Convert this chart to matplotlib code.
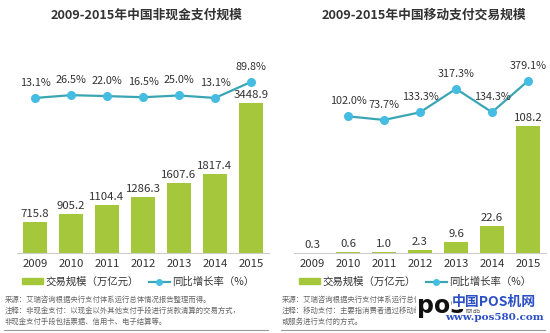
import numpy as np
import matplotlib.pyplot as plt
from matplotlib.patches import Patch
from matplotlib.lines import Line2D

plt.rcParams['font.family'] = ['Noto Sans CJK SC', 'DejaVu Sans']

# %% data
years = ['2009', '2010', '2011', '2012', '2013', '2014', '2015']
cash_scale = [715.8, 905.2, 1104.4, 1286.3, 1607.6, 1817.4, 3448.9]
cash_growth = [13.1, 26.5, 22.0, 16.5, 25.0, 13.1, 89.8]
mobile_scale = [0.3, 0.6, 1.0, 2.3, 9.6, 22.6, 108.2]
mobile_growth = [102.0, 73.7, 133.3, 317.3, 134.3, 379.1]  # 2010-2015

titles = ['2009-2015年中国非现金支付规模', '2009-2015年中国移动支付交易规模']
notes_left = ['来源：艾瑞咨询根据央行支付体系运行总体情况报告整理而得。',
              '注释：非现金支付：以现金以外其他支付手段进行货款清算的交易方式，',
              '非现金支付手段包括票据、信用卡、电子结算等。']
notes_right = ['来源：艾瑞咨询根据央行支付体系运行总体情况报告整理而得。',
               '注释：移动支付：主要指消费者通过移动终端对所消费的商品',
               '或服务进行支付的方式。']

bar_c = '#a5c73b'
line_c = '#3aa6b4'
mark_c = '#45bde2'
txt_c = '#333333'

W, H = 550, 333
fig = plt.figure(figsize=(5.5, 3.33), dpi=100)


def px_axes(x0, x1, y_top, y_bot):
    return fig.add_axes([x0 / W, 1 - y_bot / H, (x1 - x0) / W, (y_bot - y_top) / H])


def panel(x0, scale, growth, gx, bar_max, glim, title, notes):
    ax = px_axes(x0, x0 + 252, 60, 253)
    x = np.arange(len(scale))
    ax.bar(x, scale, width=0.68, color=bar_c, zorder=2)
    ax.set_xlim(-0.5, 6.5)
    ax.set_ylim(0, bar_max)
    for xi, v in zip(x, scale):
        ax.annotate(f'{v:.1f}', (xi, v), xytext=(0, 3), textcoords='offset pixels',
                    ha='center', va='bottom', fontsize=8.2, color=txt_c)
    ax.set_xticks(x)
    ax.set_xticklabels(years, fontsize=8.2, color=txt_c)
    ax.tick_params(axis='x', length=0, pad=4)
    ax.set_yticks([])
    for s in ['top', 'left', 'right']:
        ax.spines[s].set_visible(False)
    ax.spines['bottom'].set_color('#cccccc')
    ax.spines['bottom'].set_linewidth(0.8)

    ax2 = ax.twinx()
    ax2.plot(gx, growth, color=line_c, lw=1.6, marker='o', ms=5.5,
             mfc=mark_c, mec=mark_c, zorder=3)
    ax2.set_ylim(*glim)
    ax2.set_yticks([])
    for s in ax2.spines.values():
        s.set_visible(False)
    for xi, v in zip(gx, growth):
        ax2.annotate(f'{v:.1f}%', (xi, v), xytext=(0, 15), textcoords='offset pixels',
                     ha='center', va='center', fontsize=7.8, color=txt_c)

    cx = x0 + 126
    fig.text((cx + 4) / W, 1 - 15 / H, title, ha='center', va='center',
             fontsize=9.2, fontweight='bold', color=txt_c)

    handles = [Patch(color=bar_c, label='交易规模（万亿元）'),
               Line2D([], [], color=line_c, lw=1.6, marker='o', ms=4,
                      mfc=mark_c, mec=mark_c, label='同比增长率（%）')]
    ax.legend(handles=handles, ncol=2, loc='center', frameon=False,
              bbox_to_anchor=((x0 + 121) / W, 1 - 282 / H), bbox_transform=fig.transFigure,
              fontsize=7.5, handlelength=2.0, handleheight=0.5, columnspacing=1.0,
              handletextpad=0.2, labelcolor=txt_c, borderpad=0.2)

    for i, line in enumerate(notes):
        fig.text((x0 - 12) / W, 1 - (300 + i * 11) / H, line, ha='left', va='center',
                 fontsize=5.3, color='#666666')
    fig.add_artist(Line2D([(x0 - 13) / W, (x0 + 251) / W], [1 - 330 / H] * 2,
                          color='#999999', lw=0.8))


panel(17, cash_scale, cash_growth, np.arange(7), 4437.6, (-730, 195),
      titles[0], notes_left)
panel(294, mobile_scale, mobile_growth, np.arange(1, 7), 164.4, (-968, 543),
      titles[1], notes_right)

# watermark
fig.text(417 / W, 1 - 306 / H, 'pos', fontsize=17, fontweight='bold', color='#111111',
         family='DejaVu Sans', ha='left', va='center',
         bbox=dict(fc='white', ec='none', pad=0.5))
fig.text(494 / W, 1 - 302 / H, '中国POS机网', fontsize=10, fontweight='bold',
         color='#2b4fc4', ha='center', va='center',
         bbox=dict(fc='white', ec='none', pad=0.3))
fig.text(494 / W, 1 - 318 / H, 'www.pos580.com', fontsize=7.5, fontweight='bold',
         color='#2b4fc4', family='DejaVu Serif', ha='center', va='center',
         bbox=dict(fc='white', ec='none', pad=0.3))

fig.savefig('out.png', dpi=100)
